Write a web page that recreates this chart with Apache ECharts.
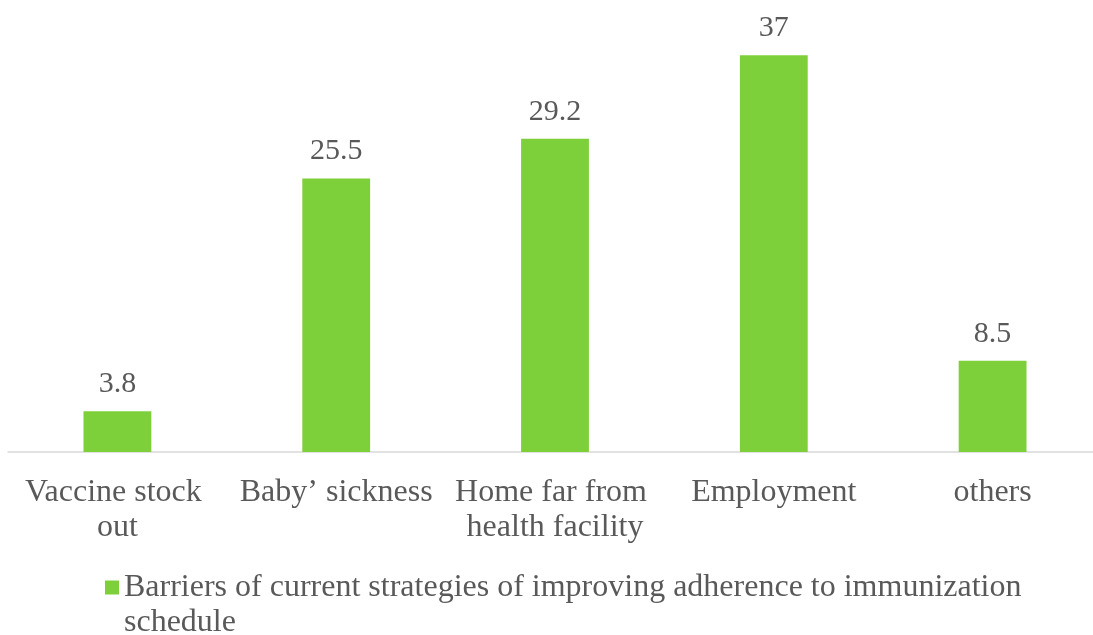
<!DOCTYPE html>
<html>
<head>
<meta charset="utf-8">
<script src="https://cdn.jsdelivr.net/npm/echarts@6/dist/echarts.min.js"></script>
<style>
html,body{margin:0;padding:0;background:#fff;overflow:hidden;}
#main{width:1103px;height:635px;}
</style>
</head>
<body>
<div id="main"></div>
<script>
const categories = ['Vaccine stock out', 'Baby\u2019 sickness', 'Home far from health facility', 'Employment', 'others'];
const values = [3.8, 25.5, 29.2, 37, 8.5];
const seriesName = 'Barriers of current strategies of improving adherence to immunization schedule';

const font = '"Liberation Serif", "Times New Roman", serif';
const textColor = '#595959';

const chart = echarts.init(document.getElementById('main'));
chart.setOption({
  backgroundColor: '#ffffff',
  animation: false,
  grid: { left: 8, top: 23, right: 0, height: 429, containLabel: false },
  xAxis: {
    type: 'category',
    data: categories,
    axisLine: { lineStyle: { color: '#D9D9D9', width: 1.5 } },
    axisTick: { show: false },
    axisLabel: {
      interval: 0,
      margin: 23,
      color: textColor,
      fontFamily: font,
      fontSize: 32,
      lineHeight: 35,
      width: 215,
      overflow: 'break'
    }
  },
  yAxis: {
    type: 'value',
    min: 0,
    max: 40,
    show: false,
    splitLine: { show: false }
  },
  legend: {
    left: 100,
    top: 530,
    itemWidth: 14,
    itemHeight: 14,
    icon: 'rect',
    data: [seriesName],
    formatter: function (name) { return '\n' + name; },
    textStyle: {
      color: textColor,
      fontFamily: font,
      fontSize: 32,
      lineHeight: 35,
      width: 920,
      overflow: 'break'
    }
  },
  series: [{
    name: seriesName,
    type: 'bar',
    data: values,
    barWidth: '31%',
    itemStyle: { color: '#7ED03B' },
    label: {
      show: true,
      position: 'top',
      distance: 12,
      color: textColor,
      fontFamily: font,
      fontSize: 30
    }
  }]
});
</script>
</body>
</html>
